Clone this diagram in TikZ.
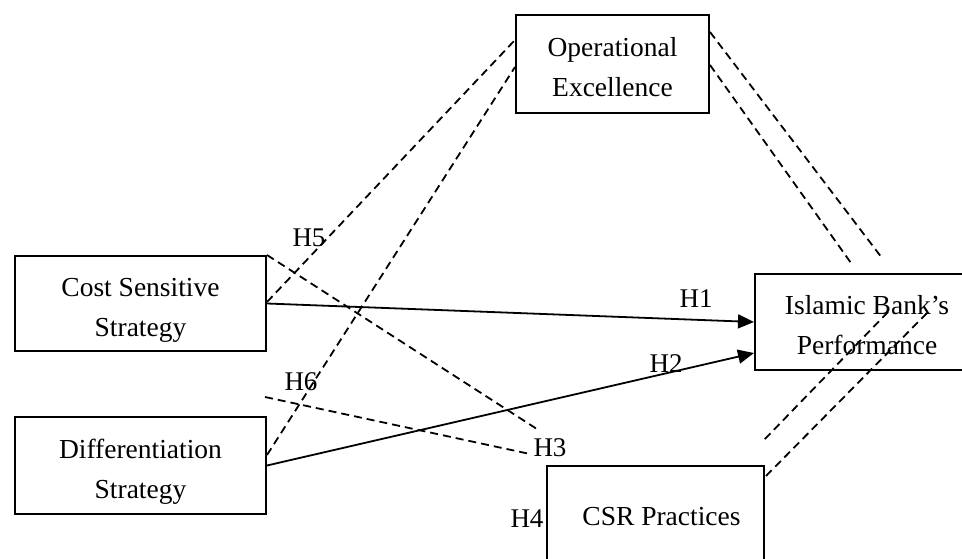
\documentclass[tikz,border=0pt]{standalone}
\usepackage{fontspec}
\setmainfont{Liberation Serif}
\usetikzlibrary{arrows.meta,calc}
\newcommand{\lowr}[1]{\rule{0pt}{#1pt}}
\begin{document}
\begin{tikzpicture}[x=1pt,y=-1pt,
  box/.style={draw,line width=2pt,inner sep=0pt,align=center,font=\fontsize{27.5}{40}\selectfont},
  hyp/.style={font=\fontsize{27}{30}\selectfont,inner sep=0pt},
  dline/.style={line width=1.8pt,dash pattern=on 8pt off 5pt},
  sline/.style={line width=1.8pt,-{Triangle[length=16pt,width=14pt]}}]
\useasboundingbox (0,0) rectangle (962,559);
\fill[white] (0,0) rectangle (962,559);
\clip (0,0) rectangle (962,559);
% boxes
\node[box,minimum width=193pt,minimum height=98pt] (op) at (612.5,64) {\lowr{25}Operational\\Excellence};
\node[box,minimum width=251pt,minimum height=95pt] (cost) at (140.5,303.5) {\lowr{31}Cost Sensitive\\Strategy};
\node[box,minimum width=251pt,minimum height=97pt] (diff) at (140.5,465.5) {\lowr{31}Differentiation\\Strategy};
\node[box,minimum width=224pt,minimum height=96pt] (isl) at (867,322) {\lowr{25}Islamic Bank’s\\Performance};
\node[box,minimum width=217pt,minimum height=102pt] (csr) at (655.5,517) {\hspace*{12pt}CSR Practices};
% hypothesis labels
\node[hyp] (h1) at (696,299) {H1};
\node[hyp] (h2) at (666,364) {H2};
\node[hyp] (h3) at (550,448) {H3};
\node[hyp] (h4) at (527,519) {H4};
\node[hyp] (h5) at (309,238) {H5};
\node[hyp] (h6) at (301,382) {H6};
% free ends of dashed connectors
\coordinate (h3a) at (540,431);
\coordinate (h3b) at (530,454);
\coordinate (h6s) at (265,397);
\coordinate (ia) at (882,258);
\coordinate (ib) at (851,263);
\coordinate (ic) at (888,312);
\coordinate (id) at (927,313);
\coordinate (ce) at (763,441);
% solid paths
\draw[sline] (cost.east) -- (isl.west);
\draw[sline] (diff.east) -- ($(isl.west)+(0,31)$);
% dashed paths
\draw[dline] (cost.north east) -- (h3a);
\draw[dline] (h6s) -- (h3b);
\draw[dline] ($(cost.east)+(0,-1.5)$) -- ($(op.west)+(0,-24)$);
\draw[dline] ($(diff.east)+(0,-10.5)$) -- ($(op.west)+(0,3)$);
\draw[dline] ($(op.east)+(0,-32)$) -- (ia);
\draw[dline] ($(op.east)+(0,1)$) -- (ib);
\draw[dline] (ic) -- (ce);
\draw[dline] (id) -- ($(csr.north east)+(0,12)$);
\end{tikzpicture}
\end{document}
